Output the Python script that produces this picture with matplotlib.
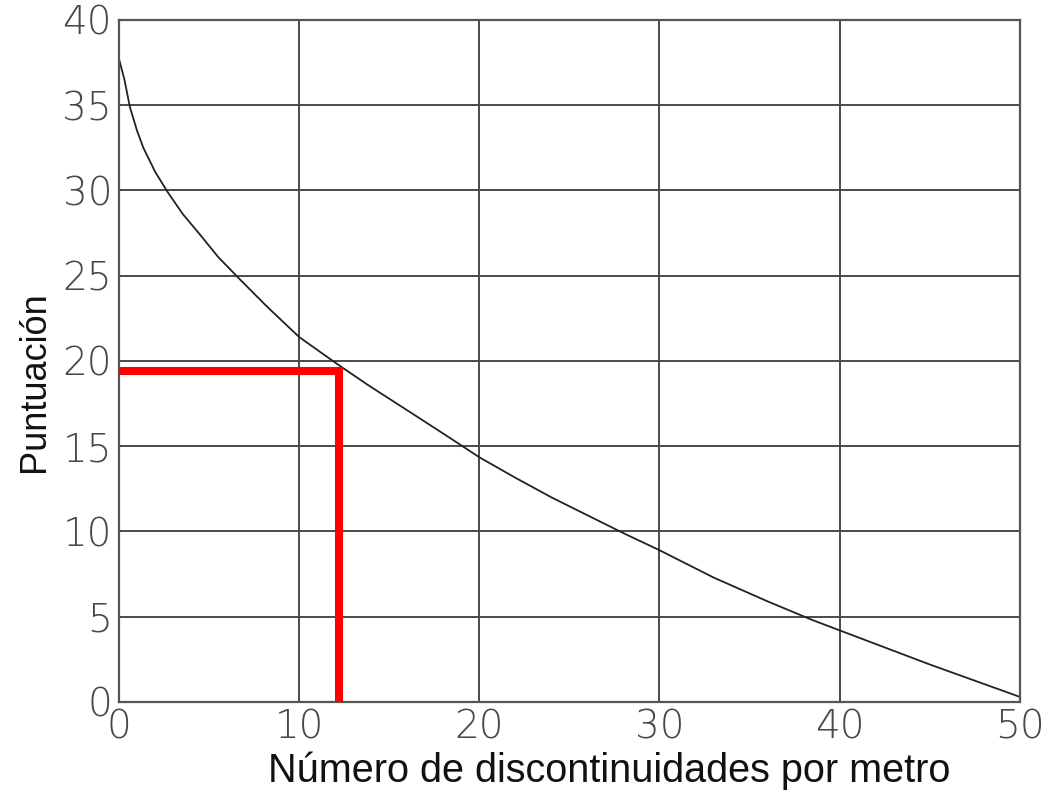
import matplotlib
matplotlib.use("Agg")
import matplotlib.pyplot as plt

# curve (discontinuities per metre -> score)
disc = [0, 0.3, 0.6, 1.0, 1.35, 2.0, 2.7, 3.55, 4.5, 5.5, 6.6, 8.2, 10, 12,
        13.8, 16.3, 18.2, 20, 22, 24, 26, 28, 30, 33, 36, 38.5, 40, 42.5, 45, 47.5, 50]
score = [37.7, 36.5, 34.9, 33.5, 32.5, 31.1, 29.9, 28.6, 27.4, 26.1, 24.9, 23.2, 21.4, 19.9,
         18.6, 16.9, 15.6, 14.35, 13.15, 12.0, 10.95, 9.9, 8.9, 7.3, 5.9, 4.8, 4.2, 3.2, 2.2, 1.25, 0.3]

# the red reading marked on the chart
read_x = 12.2
read_y = 19.4

x_ticks = [0, 10, 20, 30, 40, 50]
y_ticks = [0, 5, 10, 15, 20, 25, 30, 35, 40]

fig = plt.figure(figsize=(10.45, 7.95), dpi=100)
ax = fig.add_axes([0.1139, 0.117, 0.862, 0.858])

# grid lines
for xv in x_ticks[1:-1]:
    ax.axvline(xv, color="#4a4a4a", lw=1.4, zorder=1)
for yv in y_ticks[1:-1]:
    ax.axhline(yv, color="#4a4a4a", lw=1.4, zorder=1)

ax.plot(disc, score, color="#222222", lw=1.3, zorder=2)

# red reading lines
ax.plot([0, read_x, read_x], [read_y, read_y, 0], color="#ff0000", lw=5.8,
        solid_joinstyle="miter", solid_capstyle="butt", zorder=3)

ax.set_xlim(0, 50)
ax.set_ylim(0, 40)
ax.set_xticks(x_ticks)
ax.set_yticks(y_ticks)
ax.tick_params(length=0, labelsize=28, labelcolor="#484848", pad=5)
for lab in ax.get_xticklabels() + ax.get_yticklabels():
    lab.set_fontweight("light")

for sp in ax.spines.values():
    sp.set_color("#555555")
    sp.set_linewidth(1.6)

ax.set_xlabel("Número de discontinuidades por metro", fontsize=28.5,
              family="Liberation Sans", color="#111111")
ax.set_ylabel("Puntuación", fontsize=26, family="Liberation Sans", color="#111111")
ax.xaxis.set_label_coords(0.544, -0.072)
ax.yaxis.set_label_coords(-0.074, 0.469)

fig.savefig("out.png", dpi=100)
